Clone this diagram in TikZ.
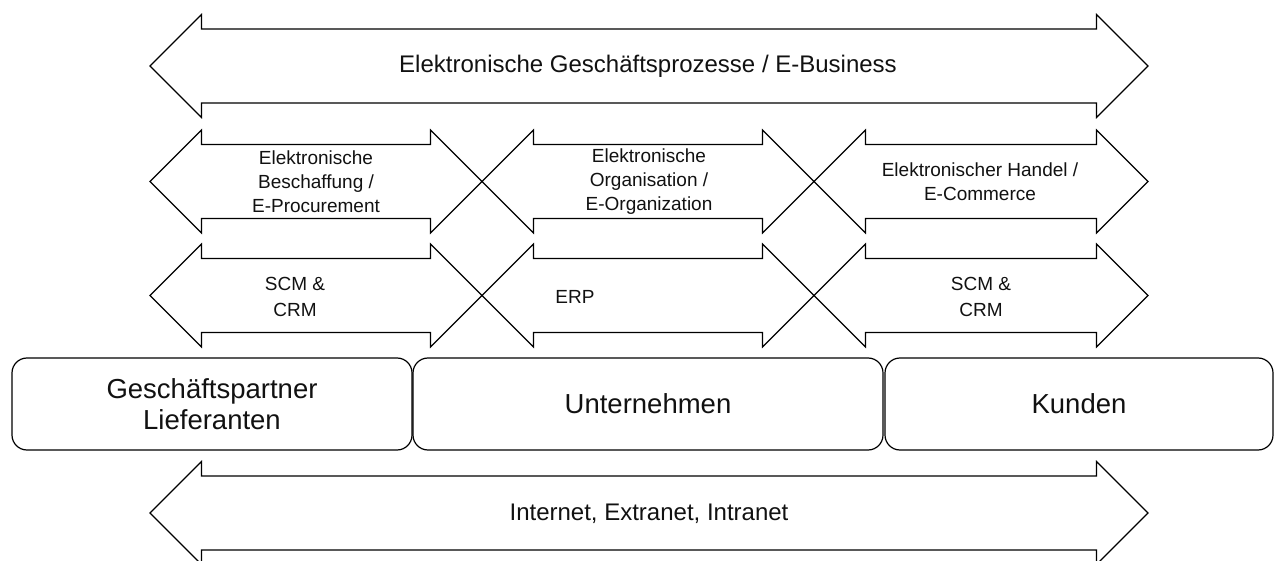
\documentclass[tikz,border=0pt]{standalone}
\usepackage{fontspec}
\setmainfont{Liberation Sans}
\definecolor{txtcol}{HTML}{111111}
\newcommand\dblarr[3]{% xl, xr, yc
  \draw[arrshape] (#1,#3) -- (#1+51.5,#3-51.5) -- (#1+51.5,#3-37) -- (#2-51.5,#3-37)
    -- (#2-51.5,#3-51.5) -- (#2,#3) -- (#2-51.5,#3+51.5) -- (#2-51.5,#3+37)
    -- (#1+51.5,#3+37) -- (#1+51.5,#3+51.5) -- cycle;}
\begin{document}
\begin{tikzpicture}[x=1pt,y=-1pt,line width=1.2pt,
  arrshape/.style={draw=black,line join=miter},
  bigtxt/.style={font=\fontsize{24}{28}\selectfont,text=txtcol,inner sep=0pt},
  smalltxt/.style={font=\fontsize{19}{24}\selectfont,align=center,text=txtcol,inner sep=0pt},
  rowtxt/.style={font=\fontsize{19}{26}\selectfont,align=center,text=txtcol,inner sep=0pt},
  partbox/.style={draw=black,rounded corners=15pt,minimum height=92pt,align=center,
    font=\fontsize{27.5}{31}\selectfont,text=txtcol,inner sep=0pt}]
\useasboundingbox (0,0) rectangle (1274,561);
\clip (0,0) rectangle (1274,561);
% top arrow
\dblarr{150}{1148}{66}
\node[bigtxt] (ebiz) at (648,66) {Elektronische Geschäftsprozesse / E-Business};
% row 1
\dblarr{150}{482}{181.5}
\dblarr{482}{814}{181.5}
\dblarr{814}{1148}{181.5}
\node[smalltxt] (eproc) at (316,181.5) {Elektronische\\Beschaffung /\\E-Procurement};
\node[smalltxt] (eorg) at (649,181.5) {Elektronische\\Organisation /\\E-Organization};
\node[smalltxt] (ecom) at (980,181.5) {Elektronischer Handel /\\E-Commerce};
% row 2
\dblarr{150}{482}{295.5}
\dblarr{482}{814}{295.5}
\dblarr{814}{1148}{295.5}
\node[rowtxt] (scm1) at (295,297) {SCM \&\\CRM};
\node[rowtxt] (erp) at (575,297) {ERP};
\node[rowtxt] (scm2) at (981,297) {SCM \&\\CRM};
% boxes
\node[partbox,minimum width=400pt] (gp) at (212,404) {Geschäftspartner\\Lieferanten};
\node[partbox,minimum width=470pt] (un) at (648,404) {Unternehmen};
\node[partbox,minimum width=388pt] (ku) at (1079,404) {Kunden};
% bottom arrow
\dblarr{150}{1148}{513}
\node[bigtxt] (net) at (649,514) {Internet, Extranet, Intranet};
\end{tikzpicture}
\end{document}
